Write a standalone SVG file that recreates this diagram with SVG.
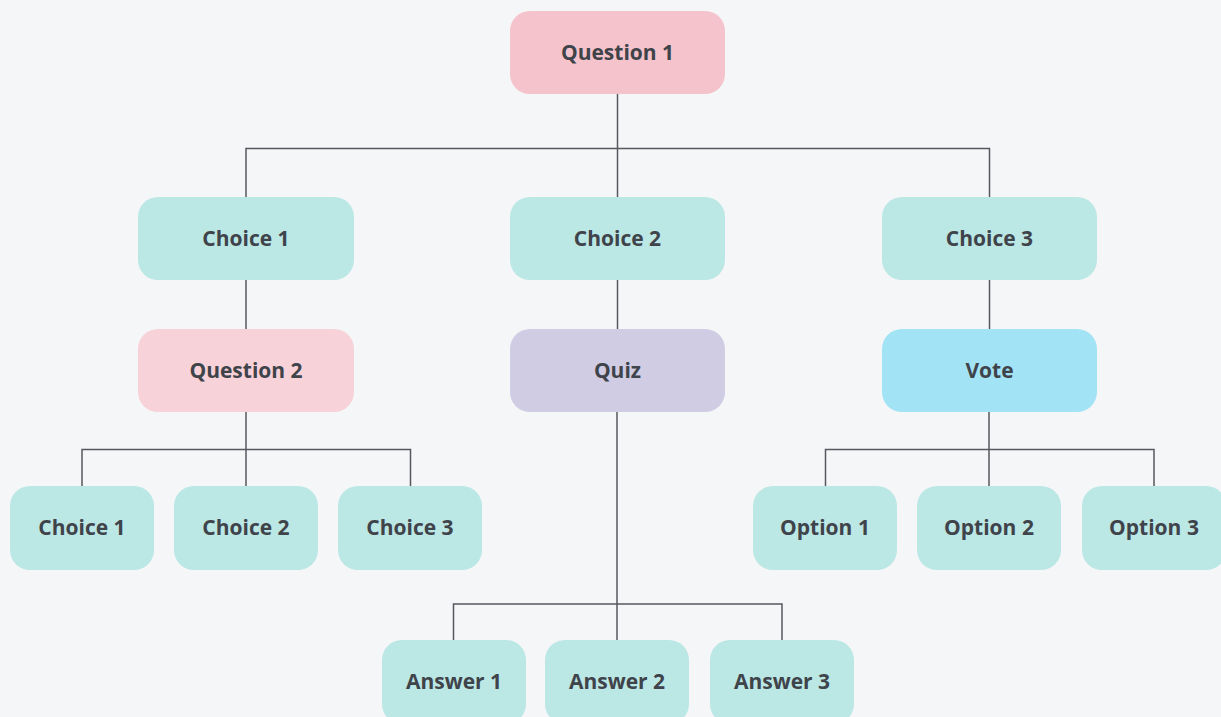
<svg xmlns="http://www.w3.org/2000/svg" width="1221" height="717" viewBox="0 0 1221 717">
<style>
.n rect{rx:20px;ry:20px}
.teal{fill:#bbe7e5}
.t{font-family:"Open Sans","Noto Sans",sans-serif;font-weight:700;font-size:21px;fill:#3f434a;text-anchor:middle}
.c{stroke:#55585f;stroke-width:1.5;fill:none}
</style>
<rect width="1221" height="717" fill="#f5f6f8"/>
<g id="connectors" class="c">
<path d="M617.5 94V197M246 197V148.5H989.5V197"/>
<path d="M246 280V329M617.5 280V329M989.5 280V329"/>
<path d="M246 412V486M82 486V449.5H410.5V486M246 449.5V486"/>
<path d="M617 412V640M453.5 640V604H782V640"/>
<path d="M989 412V486M825.5 486V449.5H1154V486"/>
</g>
<g id="question1" class="n"><rect x="510" y="11" width="215" height="83" fill="#f5c3cb"/><text class="t" x="617.5" y="59.5">Question 1</text></g>
<g id="choice1" class="n"><rect x="138" y="197" width="216" height="83" class="teal"/><text class="t" x="246" y="245.5">Choice 1</text></g>
<g id="choice2" class="n"><rect x="510" y="197" width="215" height="83" class="teal"/><text class="t" x="617.5" y="245.5">Choice 2</text></g>
<g id="choice3" class="n"><rect x="882" y="197" width="215" height="83" class="teal"/><text class="t" x="989.5" y="245.5">Choice 3</text></g>
<g id="question2" class="n"><rect x="138" y="329" width="216" height="83" fill="#f7d2d8"/><text class="t" x="246" y="377.5">Question 2</text></g>
<g id="quiz" class="n"><rect x="510" y="329" width="215" height="83" fill="#cfcce4"/><text class="t" x="617.5" y="377.5">Quiz</text></g>
<g id="vote" class="n"><rect x="882" y="329" width="215" height="83" fill="#a3e3f6"/><text class="t" x="989.5" y="377.5">Vote</text></g>
<g id="q2choice1" class="n"><rect x="10" y="486" width="144" height="84" class="teal"/><text class="t" x="82" y="534.5">Choice 1</text></g>
<g id="q2choice2" class="n"><rect x="174" y="486" width="144" height="84" class="teal"/><text class="t" x="246" y="534.5">Choice 2</text></g>
<g id="q2choice3" class="n"><rect x="338" y="486" width="144" height="84" class="teal"/><text class="t" x="410" y="534.5">Choice 3</text></g>
<g id="option1" class="n"><rect x="753" y="486" width="144" height="84" class="teal"/><text class="t" x="825" y="534.5">Option 1</text></g>
<g id="option2" class="n"><rect x="917" y="486" width="144" height="84" class="teal"/><text class="t" x="989" y="534.5">Option 2</text></g>
<g id="option3" class="n"><rect x="1082" y="486" width="144" height="84" class="teal"/><text class="t" x="1154" y="534.5">Option 3</text></g>
<g id="answer1" class="n"><rect x="382" y="640" width="144" height="84" class="teal"/><text class="t" x="454" y="688.5">Answer 1</text></g>
<g id="answer2" class="n"><rect x="545" y="640" width="144" height="84" class="teal"/><text class="t" x="617" y="688.5">Answer 2</text></g>
<g id="answer3" class="n"><rect x="710" y="640" width="144" height="84" class="teal"/><text class="t" x="782" y="688.5">Answer 3</text></g>
</svg>
